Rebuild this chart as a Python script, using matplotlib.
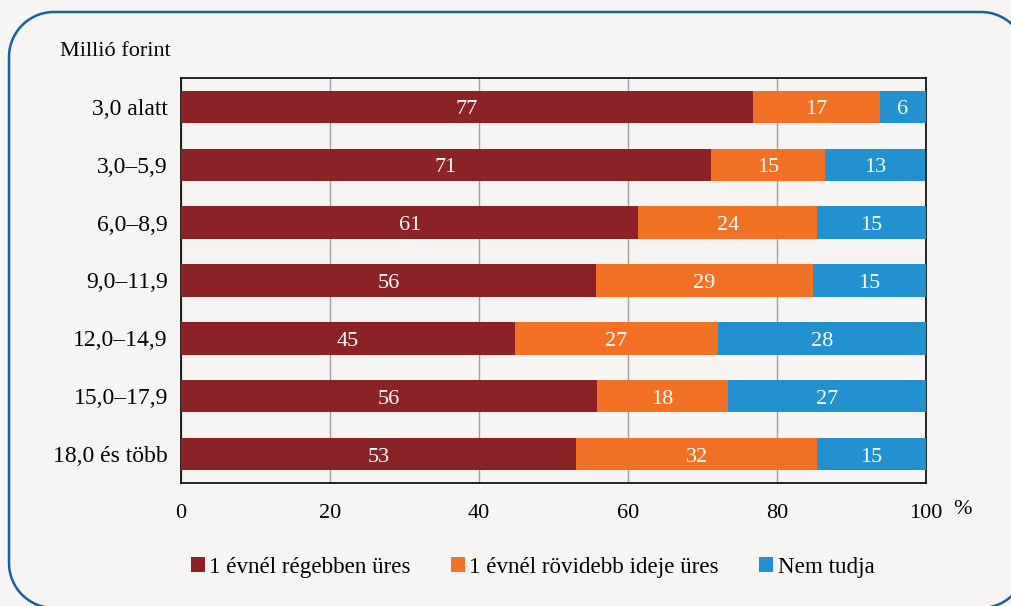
import matplotlib
matplotlib.use("Agg")
import numpy as np
import matplotlib.pyplot as plt
from matplotlib.patches import Patch, PathPatch
from matplotlib.path import Path

# categories (income bands) and the three shares
categories = ["3,0 alatt", "3,0–5,9", "6,0–8,9", "9,0–11,9",
              "12,0–14,9", "15,0–17,9", "18,0 és több"]
older = [76.8, 71.1, 61.4, 55.7, 44.8, 55.8, 53.0]
newer = [17.0, 15.4, 24.0, 29.1, 27.3, 17.6, 32.4]
unknown = [6.2, 13.3, 14.6, 15.2, 27.9, 26.6, 14.6]
series_names = ["1 évnél régebben üres", "1 évnél rövidebb ideje üres", "Nem tudja"]
xticks = [0, 20, 40, 60, 80, 100]

colors = ["#8b2326", "#f37124", "#2291d0"]
bg = "#f6f5f3"
fs = 16

plt.rcParams["font.family"] = ["Liberation Serif", "DejaVu Serif"]

fig = plt.figure(figsize=(10.11, 6.06), dpi=100, facecolor=bg)


def rounded_box(x0, y0, x1, y1, r):
    # closed rounded rectangle in pixel coords (y down)
    pts = []
    corners = [(x1 - r, y0 + r, -90, 0), (x1 - r, y1 - r, 0, 90),
               (x0 + r, y1 - r, 90, 180), (x0 + r, y0 + r, 180, 270)]
    for cx, cy, a0, a1 in corners:
        t = np.radians(np.linspace(a0, a1, 30))
        pts.extend(zip(cx + r * np.cos(t), cy + r * np.sin(t)))
    pts.append(pts[0])
    return Path(pts, closed=True)


# background axes in pixel units for the rounded frame
bgax = fig.add_axes([0, 0, 1, 1], zorder=-10)
bgax.set_xlim(0, 1011)
bgax.set_ylim(606, 0)
bgax.axis("off")
bgax.add_patch(PathPatch(rounded_box(9, 12, 1026, 608, 45), facecolor="none",
                         edgecolor="#1a5fa0", linewidth=1.8, clip_on=False))

ax = fig.add_axes([181 / 1011, 1 - 483 / 606, (926 - 181) / 1011, (483 - 78) / 606])
ax.set_facecolor(bg)

y = list(range(len(categories)))
left = [0] * len(categories)
for vals, col, name in zip([older, newer, unknown], colors, series_names):
    bars = ax.barh(y, vals, left=left, height=0.56, color=col, label=name,
                   edgecolor="none", zorder=3)
    for b, v in zip(bars, vals):
        ax.text(b.get_x() + b.get_width() / 2, b.get_y() + b.get_height() / 2 + 0.13,
                f"{round(v)}", ha="center", va="baseline", color="white",
                fontsize=fs, zorder=4)
    left = [l + v for l, v in zip(left, vals)]

ax.set_xlim(0, 100)
ax.set_ylim(6.5, -0.5)
ax.set_yticks(y)
ax.set_yticklabels(categories, fontsize=17)
ax.set_xticks(xticks)
ax.set_xticklabels([str(t) for t in xticks], fontsize=fs)
ax.tick_params(axis="y", length=0, pad=9.5)
ax.tick_params(axis="x", length=0, pad=15)
ax.grid(axis="x", color="#a0a0a0", linewidth=1, zorder=0)
for s in ax.spines.values():
    s.set_color("black")
    s.set_linewidth(1.2)

fig.text(963 / 1011, 1 - 510 / 606, "%", ha="center", va="center", fontsize=fs)
fig.text(60 / 1011, 1 - 51 / 606, "Millió forint", ha="left", va="center", fontsize=fs)

handles = [Patch(facecolor=c, edgecolor="none") for c in colors]
fig.legend(handles, series_names, loc="center left",
           bbox_to_anchor=(170 / 1011, 1 - 567 / 606), ncol=3, frameon=False,
           fontsize=16.6, handlelength=0.6, handleheight=0.6, handletextpad=0.2,
           columnspacing=1.75)

fig.savefig("out.png", dpi=100, facecolor=bg)
